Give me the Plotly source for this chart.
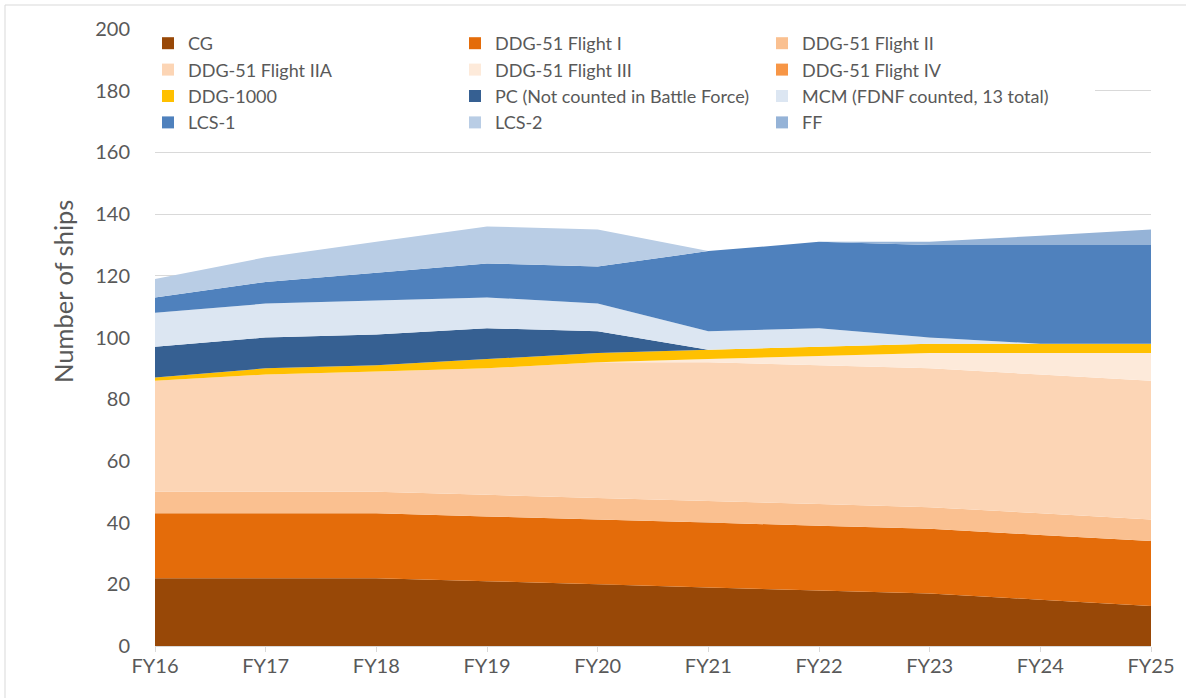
import plotly.graph_objects as go

years = ["FY16", "FY17", "FY18", "FY19", "FY20", "FY21", "FY22", "FY23", "FY24", "FY25"]

cg = [22, 22, 22, 21, 20, 19, 18, 17, 15, 13]
ddg_f1 = [21, 21, 21, 21, 21, 21, 21, 21, 21, 21]
ddg_f2 = [7, 7, 7, 7, 7, 7, 7, 7, 7, 7]
ddg_f2a = [36, 38, 39, 41, 44, 45, 45, 45, 45, 45]
ddg_f3 = [0, 0, 0, 0, 0, 1, 3, 5, 7, 9]
ddg_f4 = [0, 0, 0, 0, 0, 0, 0, 0, 0, 0]
ddg1000 = [1, 2, 2, 3, 3, 3, 3, 3, 3, 3]
pc = [10, 10, 10, 10, 7, 0, 0, 0, 0, 0]
mcm = [11, 11, 11, 10, 9, 6, 6, 2, 0, 0]
lcs1 = [5, 7, 9, 11, 12, 26, 28, 30, 32, 32]
lcs2 = [6, 8, 10, 12, 12, 0, 0, 0, 0, 0]
ff = [0, 0, 0, 0, 0, 0, 0, 1, 3, 5]

series = [
    ("CG", cg, "#984807"),
    ("DDG-51 Flight I", ddg_f1, "#E46C0A"),
    ("DDG-51 Flight II", ddg_f2, "#FAC090"),
    ("DDG-51 Flight IIA", ddg_f2a, "#FCD5B5"),
    ("DDG-51 Flight III", ddg_f3, "#FDEADA"),
    ("DDG-51 Flight IV", ddg_f4, "#F79646"),
    ("DDG-1000", ddg1000, "#FFC000"),
    ("PC (Not counted in Battle Force)", pc, "#366092"),
    ("MCM (FDNF counted, 13 total)", mcm, "#DCE6F2"),
    ("LCS-1", lcs1, "#4F81BD"),
    ("LCS-2", lcs2, "#B9CDE5"),
    ("FF", ff, "#95B3D7"),
]

FONT = "Lato"
GREY = "#595959"

fig = go.Figure()
for name, vals, col in series:
    fig.add_trace(go.Scatter(
        x=years, y=vals, name=name, mode="none", stackgroup="one",
        fillcolor=col, line=dict(width=0), showlegend=False,
        hovertemplate=name + ": %{y}<extra></extra>",
    ))
for name, vals, col in series:
    fig.add_trace(go.Scatter(
        x=[None], y=[None], name=name, mode="markers",
        marker=dict(symbol="square", size=12, color=col),
        showlegend=True, hoverinfo="skip",
    ))

L, R, T, B = 155, 37, 29, 52
W, H = 1188, 698
pw, ph = W - L - R, H - T - B

def px_x(p):
    return (p - L) / pw

def px_y(p):
    return (H - B - p) / ph

fig.update_layout(
    width=W, height=H,
    margin=dict(l=L, r=R, t=T, b=B, pad=0, autoexpand=False),
    paper_bgcolor="white", plot_bgcolor="white",
    font=dict(family=FONT, color=GREY, size=18),
    showlegend=True,
    legend=dict(
        orientation="h", xref="container", x=148 / W, y=px_y(25),
        xanchor="left", yanchor="top",
        entrywidth=262, entrywidthmode="pixels",
        bgcolor="rgba(0,0,0,0)", font=dict(family=FONT, size=18, color=GREY),
        traceorder="normal", itemclick=False,
    ),
    xaxis=dict(
        type="category", range=[0, 9], showgrid=False, automargin=False,
        showline=True, linecolor="#D9D9D9", linewidth=1,
        ticks="outside", ticklen=5, tickcolor="#D9D9D9",
        tickfont=dict(family=FONT, size=20, color=GREY),
        ticklabelstandoff=-3,
        fixedrange=True,
    ),
    yaxis=dict(
        range=[0, 200], dtick=20, showgrid=True, gridcolor="#D9D9D9", gridwidth=1,
        zeroline=False, showline=False, ticks="", automargin=False,
        tickfont=dict(family=FONT, size=20, color=GREY),
        ticklabelstandoff=24,
        fixedrange=True,
    ),
    annotations=[
        dict(text="Number of ships", xref="paper", yref="paper",
             x=px_x(63), y=px_y(292), xanchor="center", yanchor="middle",
             textangle=-90, showarrow=False,
             font=dict(family=FONT, size=25.5, color=GREY)),
    ],
    shapes=[
        dict(type="rect", xref="paper", yref="paper", layer="above",
             x0=px_x(150), x1=px_x(1095), y0=px_y(86), y1=px_y(96),
             fillcolor="white", line=dict(width=0)),
        dict(type="line", xref="paper", yref="paper",
             x0=px_x(5), x1=px_x(5), y0=px_y(5), y1=px_y(700),
             line=dict(color="#D9D9D9", width=1)),
        dict(type="line", xref="paper", yref="paper",
             x0=px_x(5), x1=px_x(1186), y0=px_y(5), y1=px_y(5),
             line=dict(color="#D9D9D9", width=1)),
    ],
)

fig.write_html("out.html", config={"displayModeBar": False},
               post_script="document.body.style.margin='0px';")
